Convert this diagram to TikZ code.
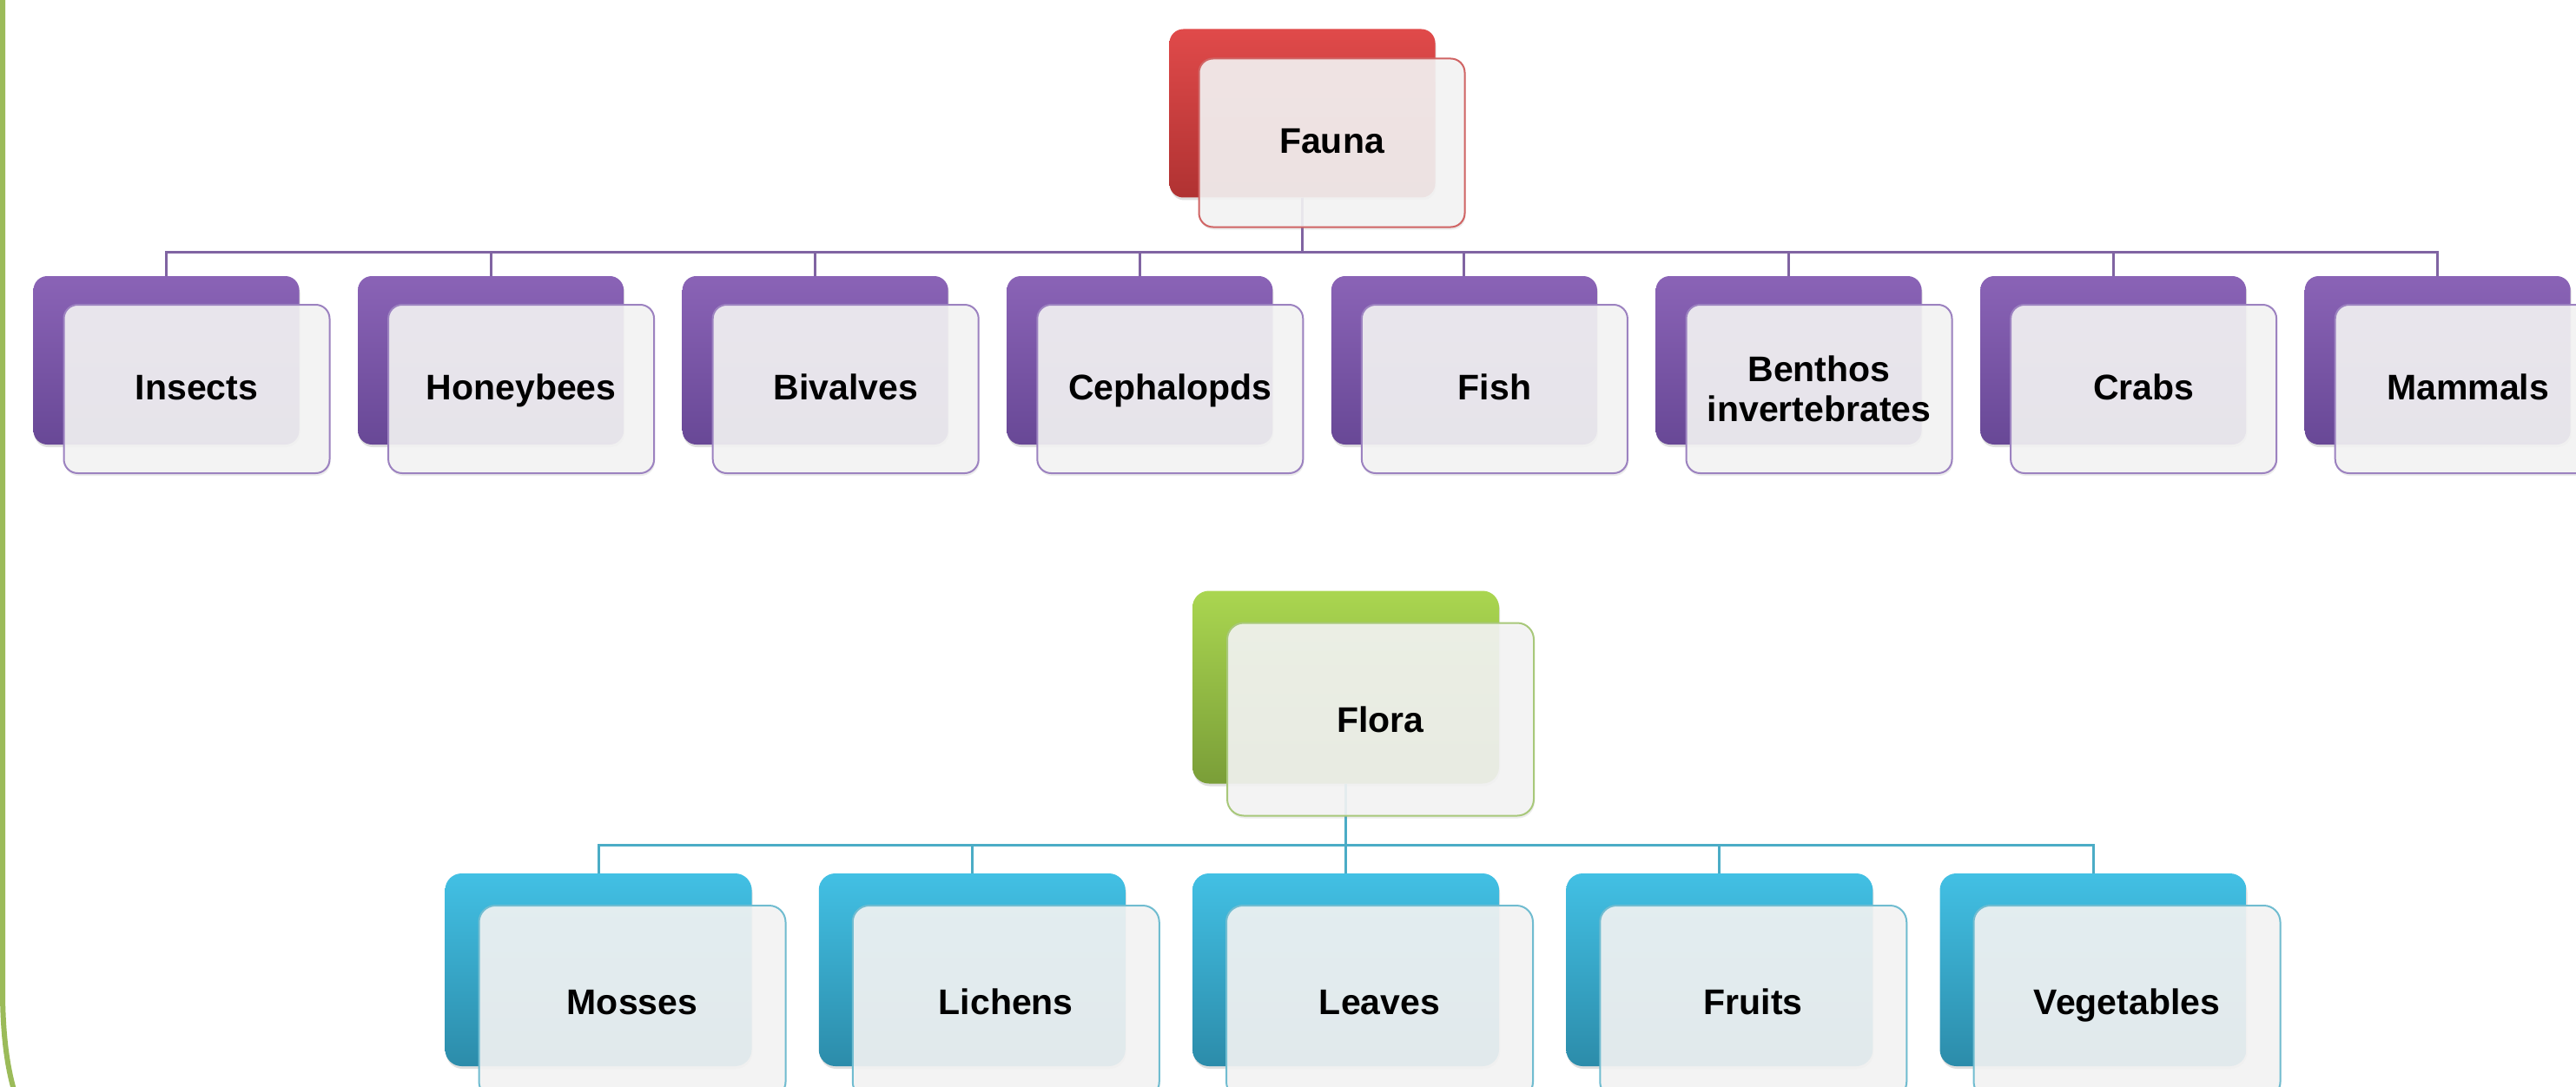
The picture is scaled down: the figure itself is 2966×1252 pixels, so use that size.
\documentclass[tikz,border=0pt]{standalone}
\usepackage{fontspec}
\setmainfont{Liberation Sans}
\usetikzlibrary{shadows,calc}
\definecolor{redtop}{HTML}{E04A4A}
\definecolor{redbot}{HTML}{B03232}
\definecolor{redline}{HTML}{D06464}
\definecolor{purtop}{HTML}{8A63B6}
\definecolor{purbot}{HTML}{684896}
\definecolor{purline}{HTML}{8064A2}
\definecolor{purfront}{HTML}{9C82C0}
\definecolor{grntop}{HTML}{AAD650}
\definecolor{grnbot}{HTML}{7A9E38}
\definecolor{grnfront}{HTML}{A8C87A}
\definecolor{blutop}{HTML}{42C0E4}
\definecolor{blubot}{HTML}{2C8CAA}
\definecolor{bluline}{HTML}{4BACC6}
\definecolor{blufront}{HTML}{70BCD0}
\definecolor{frontfill}{HTML}{F4F4F4}
\definecolor{framegreen}{HTML}{9BBB59}
\tikzset{
  smallback/.style={rounded corners=16, inner sep=0, minimum width=306, minimum height=194,
    drop shadow={opacity=0.25, shadow xshift=1pt, shadow yshift=-3pt}},
  bigback/.style={rounded corners=19, inner sep=0, minimum width=353, minimum height=222,
    drop shadow={opacity=0.25, shadow xshift=1pt, shadow yshift=-3pt}},
  frontbox/.style={rounded corners=#1, inner sep=0, fill=frontfill, fill opacity=0.9,
    text opacity=1, line width=2, align=center,
    font=\fontsize{41}{46}\selectfont\bfseries,
    text height=29.5pt, text depth=0pt,
    drop shadow={opacity=0.15, shadow xshift=1pt, shadow yshift=-3pt}},
  smallfront/.style={frontbox=16, minimum width=306, minimum height=194, text depth=5pt},
  bigfront/.style={frontbox=19, minimum width=353, minimum height=222},
  redback/.style={smallback, top color=redtop, bottom color=redbot},
  purback/.style={smallback, top color=purtop, bottom color=purbot},
  grnback/.style={bigback, top color=grntop, bottom color=grnbot},
  bluback/.style={bigback, top color=blutop, bottom color=blubot},
  purconn/.style={draw=purline, line width=3},
  bluconn/.style={draw=bluline, line width=3},
}
\begin{document}
\begin{tikzpicture}[x=1pt,y=-1pt]
\useasboundingbox (0,0) rectangle (2966,1252);
\fill[white] (0,0) rectangle (2966,1252);
% frame line
\draw[framegreen, line width=6] (3,-10) -- (3,1140) .. controls (3,1195) and (9,1235) .. (19,1265);

% ---------- Fauna ----------
\node[redback] (fauna-b) at (1499.5,130.5) {};
\foreach \n [count=\i from 0] in {ins,hon,biv,cep,fis,ben,cra,mam} {
  \node[purback] (\n-b) at ({191.5+\i*373.6},415) {};
}
\coordinate (fbar) at (1499.5,290);
\foreach \n in {ins,hon,biv,cep,fis,ben,cra,mam} {
  \draw[purconn] (fauna-b.south) |- (fbar -| \n-b.north) -- (\n-b.north);
}
\node[smallfront, draw=redline] (fauna) at (1533.5,164.5) {Fauna};
\foreach \n/\t [count=\i from 0] in {ins/Insects,hon/Honeybees,biv/Bivalves,cep/Cephalopds,fis/Fish,cra/Crabs,mam/Mammals} {
  \pgfmathsetmacro\k{\i<5 ? \i : \i+1}
  \node[smallfront, draw=purfront] (\n) at ({226.5+\k*373.6},448) {\t};
}
\node[smallfront, draw=purfront, text height={}, text depth={}] (ben) at ({226.5+5*373.6},448) {Benthos\\invertebrates};

% ---------- Flora ----------
\node[grnback] (flora-b) at (1549.5,791.5) {};
\foreach \n [count=\i from 0] in {mos,lic,lea,fru,veg} {
  \node[bluback] (\n-b) at ({689+\i*430.25},1117) {};
}
\coordinate (gbar) at (1549.5,973);
\foreach \n in {mos,lic,lea,fru,veg} {
  \draw[bluconn] (flora-b.south) |- (gbar -| \n-b.north) -- (\n-b.north);
}
\node[bigfront, draw=grnfront] (flora) at (1589.5,828.5) {Flora};
\foreach \n/\t [count=\i from 0] in {mos/Mosses,lic/Lichens,lea/Leaves,fru/Fruits,veg/Vegetables} {
  \node[bigfront, draw=blufront] (\n) at ({728+\i*430.25},1154) {\t};
}
\end{tikzpicture}
\end{document}
